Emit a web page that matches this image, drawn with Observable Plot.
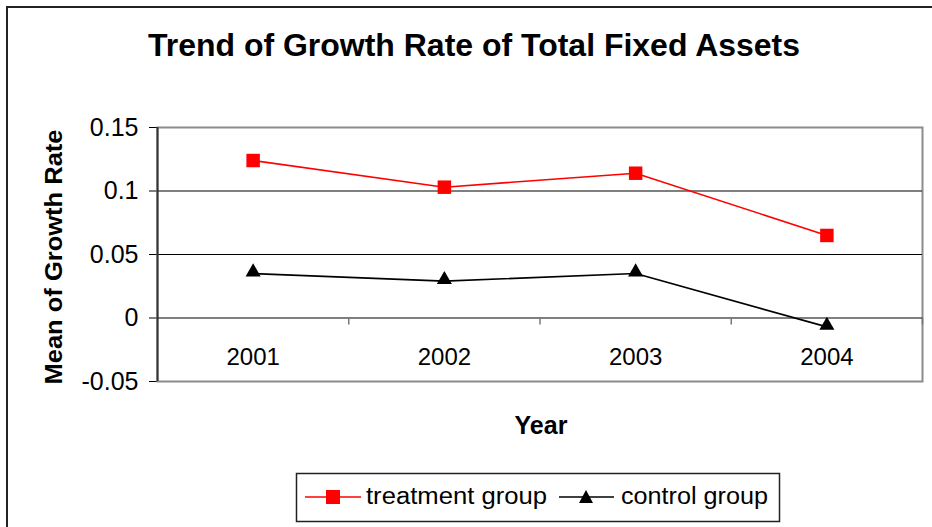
<!DOCTYPE html>
<html>
<head>
<meta charset="utf-8">
<script src="https://cdn.jsdelivr.net/npm/d3@7"></script>
<script src="https://cdn.jsdelivr.net/npm/@observablehq/plot@0.6"></script>
<style>
  html, body { margin: 0; padding: 0; background: #fff; }
  #wrap { position: relative; width: 932px; height: 527px; overflow: hidden; background: #fff;
          font-family: "Liberation Sans", Arial, sans-serif; }
  #outer { position: absolute; left: 6px; top: 6px; width: 940px; height: 540px;
           border-left: 2px solid #222; border-top: 2px solid #222; box-sizing: border-box; }
  #chart { position: absolute; left: 0; top: 0; }
  #overlay { position: absolute; left: 0; top: 0; pointer-events: none; }
</style>
</head>
<body>
<div id="wrap">
  <div id="outer"></div>
  <div id="chart"></div>
  <svg id="overlay" width="932" height="527" font-family="Liberation Sans, Arial, sans-serif"></svg>
</div>
<script>
// ---- data ----
const years = [2001, 2002, 2003, 2004];
const treatment = [0.124, 0.103, 0.114, 0.065];
const control = [0.035, 0.029, 0.035, -0.007];
const yTicks = [-0.05, 0, 0.05, 0.1, 0.15];
const gridValues = [0, 0.05, 0.1];
const seriesNames = ["treatment group", "control group"];
const titleText = "Trend of Growth Rate of Total Fixed Assets";
const yLabel = "Mean of Growth Rate";
const xLabel = "Year";

const treatRows = years.map((y, i) => ({year: y, value: treatment[i]}));
const ctrlRows = years.map((y, i) => ({year: y, value: control[i]}));
// category boundaries (midpoints between consecutive years, plus last edge)
const boundaries = years.map(y => y + 0.5);

const chart = Plot.plot({
  width: 932,
  height: 527,
  marginLeft: 157,
  marginRight: 10,
  marginTop: 127,
  marginBottom: 146,
  style: {fontFamily: "Liberation Sans, Arial, sans-serif", fontSize: "25px", color: "#000", background: "transparent"},
  x: {type: "linear", domain: [years[0] - 0.5, years[years.length - 1] + 0.5], axis: null},
  y: {domain: [yTicks[0], yTicks[yTicks.length - 1]], ticks: yTicks, tickSize: 8, tickPadding: 11,
      tickFormat: d => String(d), label: null},
  marks: [
    Plot.frame({stroke: "#8c8c8c", strokeWidth: 2}),
    Plot.ruleY(gridValues, {stroke: "#000", strokeWidth: 1.2}),
    Plot.ruleX(boundaries, {y1: 0, y2: 0, insetBottom: -7, stroke: "#777", strokeWidth: 1.5}),
    Plot.ruleX([years[0] - 0.5], {stroke: "#333", strokeWidth: 2}),
    Plot.text(years, {x: d => d, y: () => 0, dy: 39, text: d => String(d), fontSize: 24, fill: "#000"}),
    Plot.line(treatRows, {x: "year", y: "value", stroke: "#ff0000", strokeWidth: 1.6}),
    Plot.dot(treatRows, {x: "year", y: "value", symbol: "square", r: 7.6, fill: "#ff0000", stroke: "none"}),
    Plot.line(ctrlRows, {x: "year", y: "value", stroke: "#000", strokeWidth: 1.6}),
    Plot.dot(ctrlRows, {x: "year", y: "value", symbol: "triangle", r: 5.6, fill: "#000", stroke: "none", dy: -1.5})
  ]
});
document.getElementById("chart").appendChild(chart);

// ---- title, axis titles, legend ----
const ov = d3.select("#overlay");
ov.append("text").attr("x", 474).attr("y", 56).attr("text-anchor", "middle")
  .attr("font-weight", "bold").attr("font-size", 31)
  .attr("textLength", 652).attr("lengthAdjust", "spacingAndGlyphs").text(titleText);
ov.append("text").attr("transform", "translate(62,257) rotate(-90)").attr("text-anchor", "middle")
  .attr("font-weight", "bold").attr("font-size", 24)
  .attr("textLength", 255).attr("lengthAdjust", "spacingAndGlyphs").text(yLabel);
ov.append("text").attr("x", 541).attr("y", 434).attr("text-anchor", "middle")
  .attr("font-weight", "bold").attr("font-size", 25).text(xLabel);

// legend box
ov.append("rect").attr("x", 296.5).attr("y", 473.5).attr("width", 483).attr("height", 48)
  .attr("fill", "none").attr("stroke", "#222").attr("stroke-width", 1.5);
// treatment entry
ov.append("line").attr("x1", 305).attr("x2", 361).attr("y1", 497).attr("y2", 497)
  .attr("stroke", "#ff0000").attr("stroke-width", 1.6);
ov.append("rect").attr("x", 326).attr("y", 490).attr("width", 14).attr("height", 14).attr("fill", "#ff0000");
ov.append("text").attr("x", 366).attr("y", 504).attr("font-size", 23)
  .attr("textLength", 181).attr("lengthAdjust", "spacingAndGlyphs").text(seriesNames[0]);
// control entry
ov.append("line").attr("x1", 559).attr("x2", 614).attr("y1", 497).attr("y2", 497)
  .attr("stroke", "#000").attr("stroke-width", 1.6);
ov.append("path").attr("d", "M586,490 L593,503 L579,503 Z").attr("fill", "#000");
ov.append("text").attr("x", 621).attr("y", 504).attr("font-size", 23)
  .attr("textLength", 147).attr("lengthAdjust", "spacingAndGlyphs").text(seriesNames[1]);
</script>
</body>
</html>
